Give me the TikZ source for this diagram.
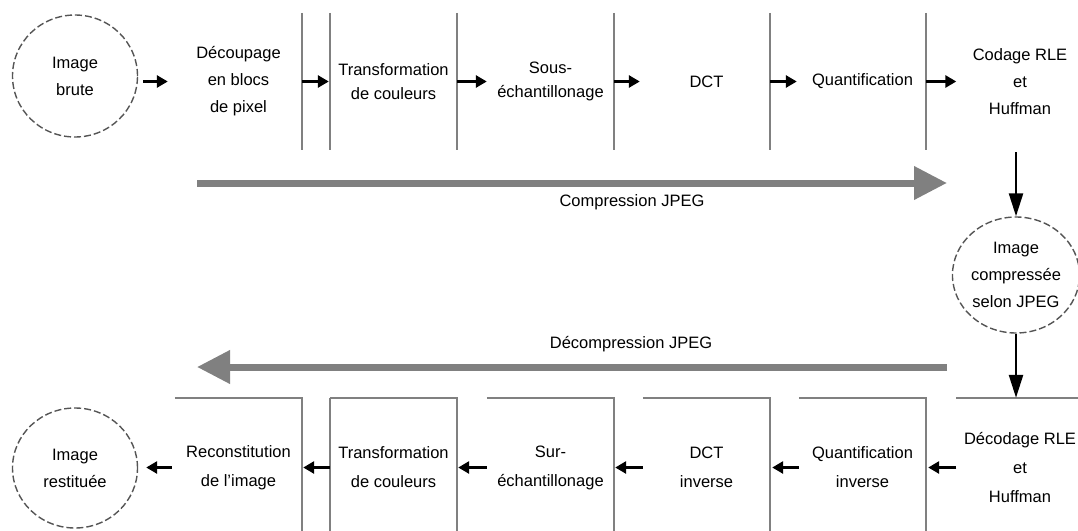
\documentclass[tikz,border=0pt]{standalone}
\usepackage{fontspec}
\setmainfont{Liberation Sans}
\usetikzlibrary{arrows.meta,shapes.geometric}
\definecolor{rulegray}{RGB}{128,128,128}
\definecolor{ringgray}{RGB}{85,85,85}
\begin{document}
\begin{tikzpicture}[x=1pt,y=-1pt,
  stage/.style={rectangle, minimum width=127pt, inner sep=0pt, align=center},
  upper/.style={stage, minimum height=137pt},
  lower/.style={stage, minimum height=139pt},
  tall/.style={font=\fontsize{16.5}{27}\selectfont},
  short/.style={font=\fontsize{16.5}{24}\selectfont},
  wide/.style={font=\fontsize{16.5}{29}\selectfont},
  ring/.style={ellipse, draw=ringgray, line width=1.4pt, dash pattern=on 7pt off 3pt,
               inner sep=0pt, align=center, font=\fontsize{16.5}{27}\selectfont},
  edge/.style={draw=rulegray, line width=2pt},
  blk/.style={draw=black, line width=3pt, -{Triangle[length=11pt,width=12pt]}},
  down/.style={draw=black, line width=2.5pt, -{Triangle[length=23pt,width=14pt]}},
  big/.style={draw=rulegray, line width=7pt, -{Triangle[length=33pt,width=32pt]}},
  caption/.style={font=\fontsize{16.5}{20}\selectfont}
]
\useasboundingbox (0,0) rectangle (1078,530);

% source and result images
\node[ring, minimum width=125pt, minimum height=122pt] (src) at (75,76) {Image\\brute};
\node[ring, minimum width=122pt, minimum height=116pt] (mid) at (1016,275) {Image\\compressée\\selon JPEG};
\node[ring, minimum width=125pt, minimum height=120pt] (dst) at (75,468) {Image\\restituée};

% compression stages
\node[upper, tall]  (b1) at (238.5,81.5) {Découpage\\en blocs\\de pixel};
\node[upper, short] (b2) at (393.5,81.5) {Transformation\\de couleurs};
\node[upper, short] (b3) at (550.5,81.5) {Sous-\\échantillonage};
\node[upper, short] (b4) at (706.5,81.5) {DCT};
\node[upper, short] (b5) at (862.5,81.5) {Quantification};
\node[upper, tall]  (b6) at (1020,81.5) {Codage RLE\\et\\Huffman};

% decompression stages
\node[lower, wide] (r1) at (238.5,467.5) {Reconstitution\\de l'image};
\node[lower, wide] (r2) at (393.5,467.5) {Transformation\\de couleurs};
\node[lower, wide] (r3) at (550.5,467.5) {Sur-\\échantillonage};
\node[lower, wide] (r4) at (706.5,467.5) {DCT\\inverse};
\node[lower, wide] (r5) at (862.5,467.5) {Quantification\\inverse};
\node[lower, wide] (r6) at (1020,467.5) {Décodage RLE\\et\\Huffman};

% visible box edges, upper row
\foreach \b in {b1,b2,b3,b4,b5}
  \draw[edge] (\b.north east) -- (\b.south east);
\draw[edge] (b2.north west) -- (b2.south west);

% visible box edges, lower row
\foreach \r in {r1,r2,r3,r4,r5}
  \draw[edge] (\r.north west) -- (\r.north east) -- (\r.south east);
\draw[edge] (r6.north west) -- (r6.north east);
\draw[edge] (r2.north west) -- (r2.south west);

% compression flow
\draw[blk, shorten <=5pt, shorten >=7pt] (src.east |- b1.west) -- (b1.west);
\draw[blk, shorten >=1pt] (b1.east) -- (b2.west);
\draw[blk] (b2.east) -- (b3.west);
\draw[blk, shorten >=3pt] (b3.east) -- (b4.west);
\draw[blk, shorten >=2pt] (b4.east) -- (b5.west);
\draw[blk] (b5.east) -- (b6.west);
\draw[down, shorten <=2pt] (mid.north |- b6.south) -- (mid.north);

% decompression flow
\draw[down] (mid.south) -- (mid.south |- r6.north);
\draw[blk, shorten >=2pt] (r6.west) -- (r5.east);
\draw[blk, shorten >=2pt] (r5.west) -- (r4.east);
\draw[blk, shorten >=1pt] (r4.west) -- (r3.east);
\draw[blk, shorten >=1pt] (r3.west) -- (r2.east);
\draw[blk, shorten >=1pt] (r2.west) -- (r1.east);
\draw[blk, shorten <=3pt, shorten >=8pt] (r1.west) -- (dst.east |- r1.west);

% overall direction arrows
\coordinate (cs) at (197,183);
\coordinate (ce) at (947,183);
\draw[big] (cs) -- (ce);
\node[caption] (clab) at (632,202) {Compression JPEG};

\coordinate (ds) at (947,367);
\coordinate (de) at (197,367);
\draw[big] (ds) -- (de);
\node[caption] (dlab) at (631,344) {Décompression JPEG};
\end{tikzpicture}
\end{document}
